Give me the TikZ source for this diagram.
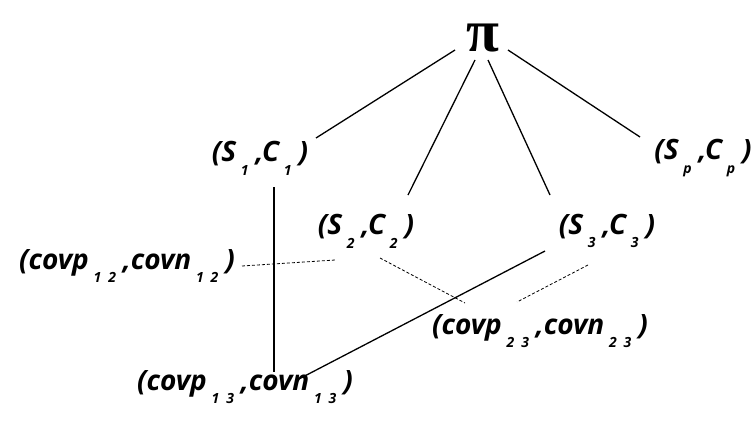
\documentclass[tikz,border=0pt]{standalone}
\usepackage{fontspec}
\setmainfont{Open Sans}
\newfontfamily\pifont{Liberation Serif}
\newcommand{\lowsub}[1]{\raisebox{-0.9ex}{\fontsize{14}{14}\selectfont #1}}
\begin{document}
\begin{tikzpicture}[x=1pt,y=-1pt,
  lbl/.style={font=\fontsize{28}{30}\selectfont\bfseries\itshape, inner sep=1pt},
  edge/.style={line width=1.3pt},
  dots/.style={line width=0.8pt, dash pattern=on 3pt off 2pt}]
\useasboundingbox (0,0) rectangle (751,421);
\node[font=\fontsize{60}{60}\pifont\bfseries, inner sep=0pt] (top) at (483,38) {π};
\node[lbl] (s1) at (260,158) {(S\lowsub{\,\,1\,}\,,C\lowsub{\,\,1\,}\,)};
\node[lbl] (s2) at (366,231) {(S\lowsub{\,\,2\,}\,,C\lowsub{\,\,2\,}\,)};
\node[lbl] (s3) at (607,231) {(S\lowsub{\,\,3\,}\,,C\lowsub{\,\,3\,}\,)};
\node[lbl] (sp) at (703,158) {(S\lowsub{\,\,p\,}\,,C\lowsub{\,\,p\,}\,)};
\node[lbl] (c12) at (127,266) {(covp\lowsub{\,\,1\,\,\,2\,}\,,covn\lowsub{\,\,1\,\,\,2\,}\,)};
\node[lbl] (c23) at (540,331) {(covp\lowsub{\,\,2\,\,\,3\,}\,,covn\lowsub{\,\,2\,\,\,3\,}\,)};
\node[lbl] (c13) at (245,387) {(covp\lowsub{\,\,1\,\,\,3\,}\,,covn\lowsub{\,\,1\,\,\,3\,}\,)};
\coordinate (pa) at (455,50);
\coordinate (pb) at (475,60);
\coordinate (pc) at (488,60);
\coordinate (pd) at (508,50);
\coordinate (s1a) at (316,138);
\coordinate (s2a) at (408,195);
\coordinate (s3a) at (550,195);
\coordinate (spa) at (640,137);
\draw[edge] (pa) -- (s1a);
\draw[edge] (pb) -- (s2a);
\draw[edge] (pc) -- (s3a);
\draw[edge] (pd) -- (spa);
\coordinate (s1b) at (274,187);
\coordinate (c13a) at (274,372);
\draw[line width=1.1pt] (s1b) -- (c13a);
\coordinate (s3b) at (545,251);
\coordinate (c13b) at (297,380);
\draw[edge] (s3b) -- (c13b);
\coordinate (s2b) at (380,258);
\coordinate (c23a) at (465,303);
\draw[dots] (s2b) -- (c23a);
\coordinate (s3c) at (588,265);
\coordinate (c23b) at (517,302);
\draw[dots] (s3c) -- (c23b);
\coordinate (c12a) at (242,266);
\coordinate (s2c) at (335,260);
\draw[dots] (c12a) -- (s2c);
\end{tikzpicture}
\end{document}
